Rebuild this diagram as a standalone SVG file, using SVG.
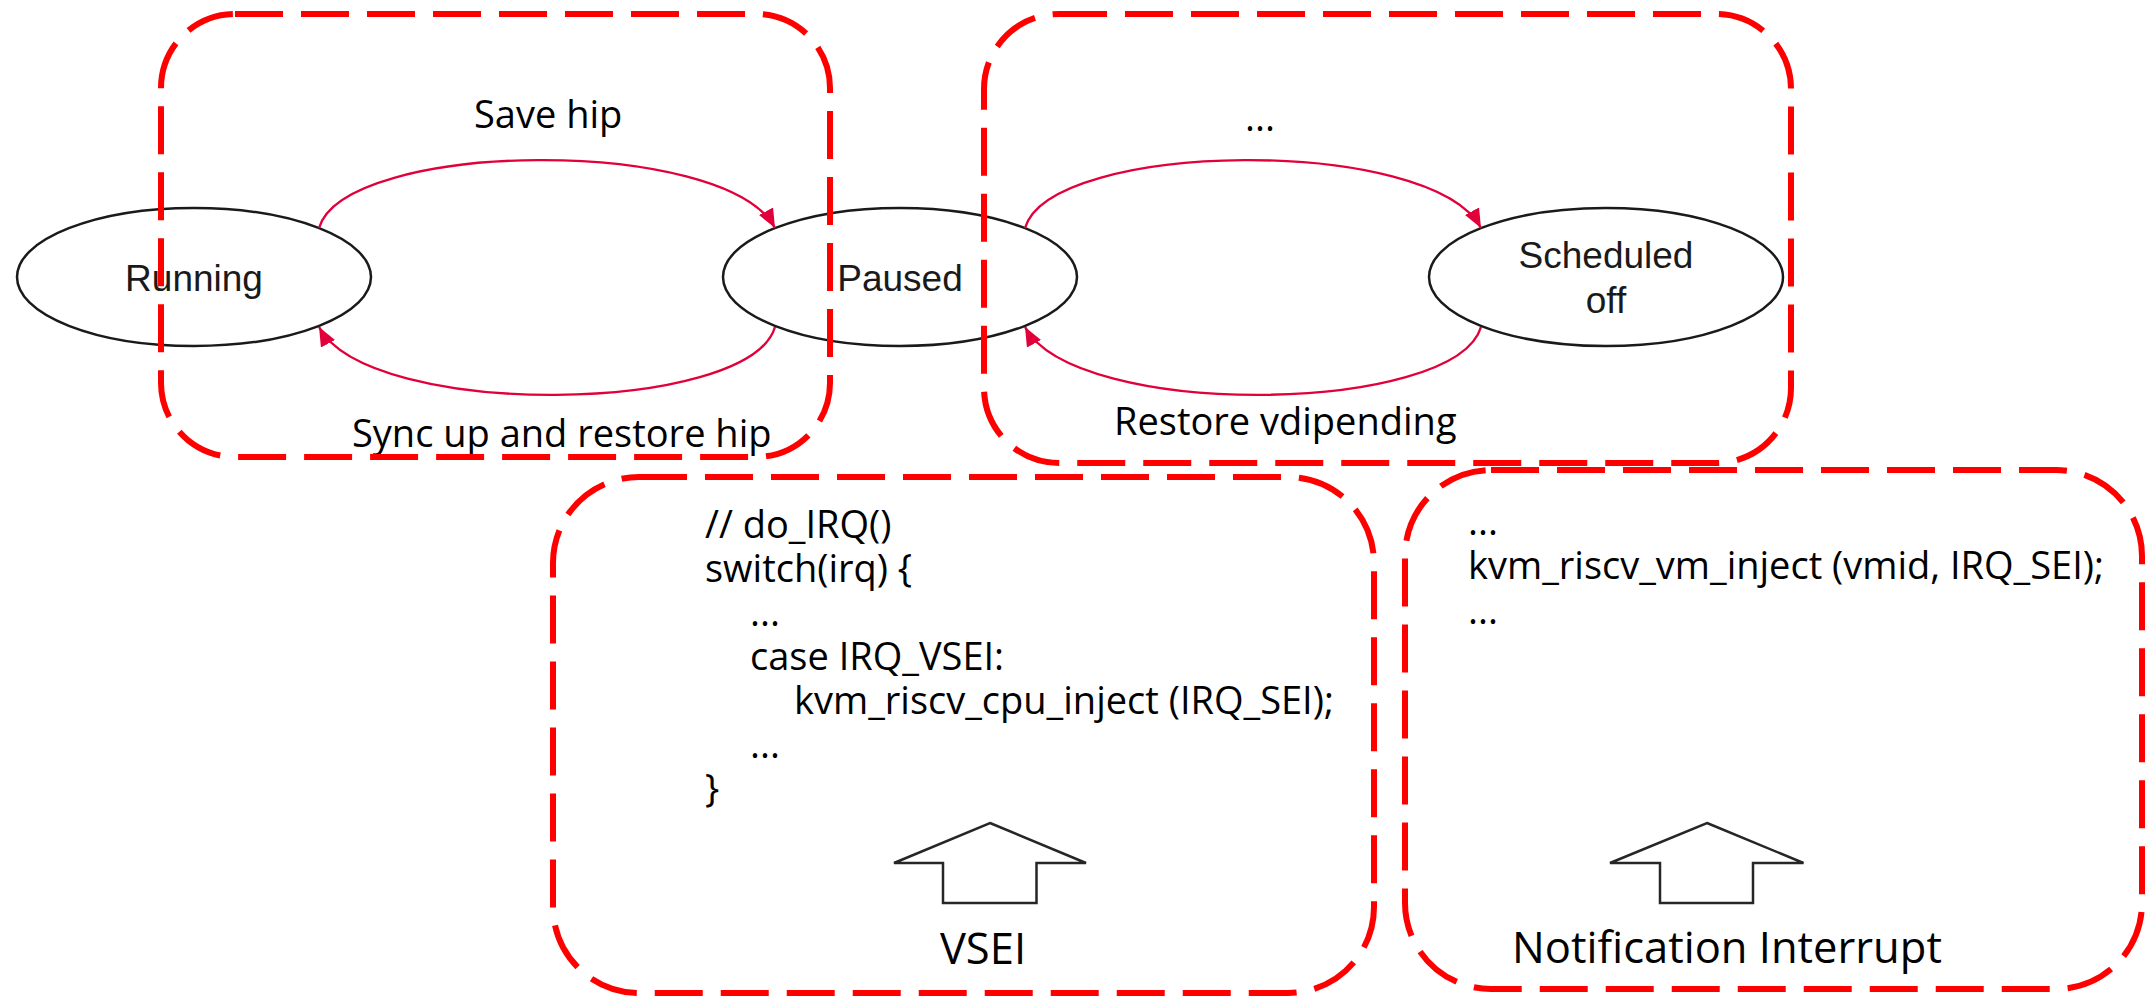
<svg xmlns="http://www.w3.org/2000/svg" width="2155" height="996" viewBox="0 0 2155 996">
  <style>
    .state { fill: #ffffff; stroke: #1a1a1a; stroke-width: 2.5; }
    .state-label { font-family: "Liberation Sans", Arial, sans-serif; font-size: 37px; fill: #1a1a1a; text-anchor: middle; }
    .flow { fill: none; stroke: #e2003b; stroke-width: 2.4; marker-end: url(#arrow); }
    .frame { fill: none; stroke: #ff0000; stroke-width: 6; stroke-dasharray: 48 18; }
    .label { font-family: "Open Sans", "Noto Sans", sans-serif; font-size: 38px; fill: #000000; }
    .code { font-family: "Open Sans", "Noto Sans", sans-serif; font-size: 38px; fill: #000000; }
    .source { font-family: "Open Sans", "Noto Sans", sans-serif; font-size: 43.5px; fill: #000000; text-anchor: middle; }
    .block-arrow { fill: #ffffff; stroke: #262626; stroke-width: 2.5; stroke-linejoin: miter; }
  </style>
  <defs>
    <marker id="arrow" markerUnits="userSpaceOnUse" markerWidth="20" markerHeight="16" refX="19" refY="8" orient="auto">
      <path d="M0,0 L19,8 L0,16 Z" fill="#e2003b"/>
    </marker>
  </defs>

  <rect width="2155" height="996" fill="#ffffff"/>

  <!-- vCPU states -->
  <g id="node-running">
    <ellipse class="state" cx="194" cy="277" rx="177" ry="69"/>
    <text class="state-label" x="194" y="291">Running</text>
  </g>
  <g id="node-paused">
    <ellipse class="state" cx="900" cy="277" rx="177" ry="69"/>
    <text class="state-label" x="900" y="291">Paused</text>
  </g>
  <g id="node-scheduled-off">
    <ellipse class="state" cx="1606" cy="277" rx="177" ry="69"/>
    <text class="state-label" x="1606" y="268">Scheduled</text>
    <text class="state-label" x="1606" y="313">off</text>
  </g>

  <!-- transitions between states -->
  <g id="connectors">
    <path class="flow" d="M319,228 C345,140 725,135 775,228"/>
    <path class="flow" d="M775,327 C749,415 369,420 319,327"/>
    <path class="flow" d="M1025,228 C1051,140 1431,135 1481,228"/>
    <path class="flow" d="M1481,327 C1455,415 1075,420 1025,327"/>
  </g>

  <!-- transition labels -->
  <g id="transition-labels">
    <text class="label" x="474" y="128">Save hip</text>
    <text class="label" x="352" y="447">Sync up and restore hip</text>
    <text class="label" x="1245" y="131">...</text>
    <text class="label" x="1114" y="435">Restore vdipending</text>
  </g>

  <!-- grouping frames -->
  <g id="frame-running-paused">
    <rect class="frame" x="161" y="14" width="669" height="443" rx="74" ry="74"/>
  </g>
  <g id="frame-paused-scheduled">
    <rect class="frame" x="984" y="14" width="807" height="449" rx="75" ry="75"/>
  </g>

  <!-- VSEI handling -->
  <g id="panel-vsei">
    <rect class="frame" x="553" y="477" width="821" height="516" rx="86" ry="86"/>
    <text class="code">
      <tspan x="705" y="538">// do_IRQ()</tspan>
      <tspan x="705" y="582">switch(irq) {</tspan>
      <tspan x="750" y="626">...</tspan>
      <tspan x="750" y="670">case IRQ_VSEI:</tspan>
      <tspan x="794" y="714">kvm_riscv_cpu_inject (IRQ_SEI);</tspan>
      <tspan x="750" y="758">...</tspan>
      <tspan x="705" y="802">}</tspan>
    </text>
    <polygon class="block-arrow" points="990,823 1086,863 1036.5,863 1036.5,903 943,903 943,863 894,863"/>
    <text class="source" x="983" y="964">VSEI</text>
  </g>

  <!-- notification interrupt handling -->
  <g id="panel-notification">
    <rect class="frame" x="1405" y="470" width="737" height="519" rx="86" ry="86"/>
    <text class="code">
      <tspan x="1468" y="535">...</tspan>
      <tspan x="1468" y="579">kvm_riscv_vm_inject (vmid, IRQ_SEI);</tspan>
      <tspan x="1468" y="624">...</tspan>
    </text>
    <polygon class="block-arrow" points="1707,823 1803.5,863 1753,863 1753,903 1660,903 1660,863 1610,863"/>
    <text class="source" x="1727" y="963">Notification Interrupt</text>
  </g>
</svg>
